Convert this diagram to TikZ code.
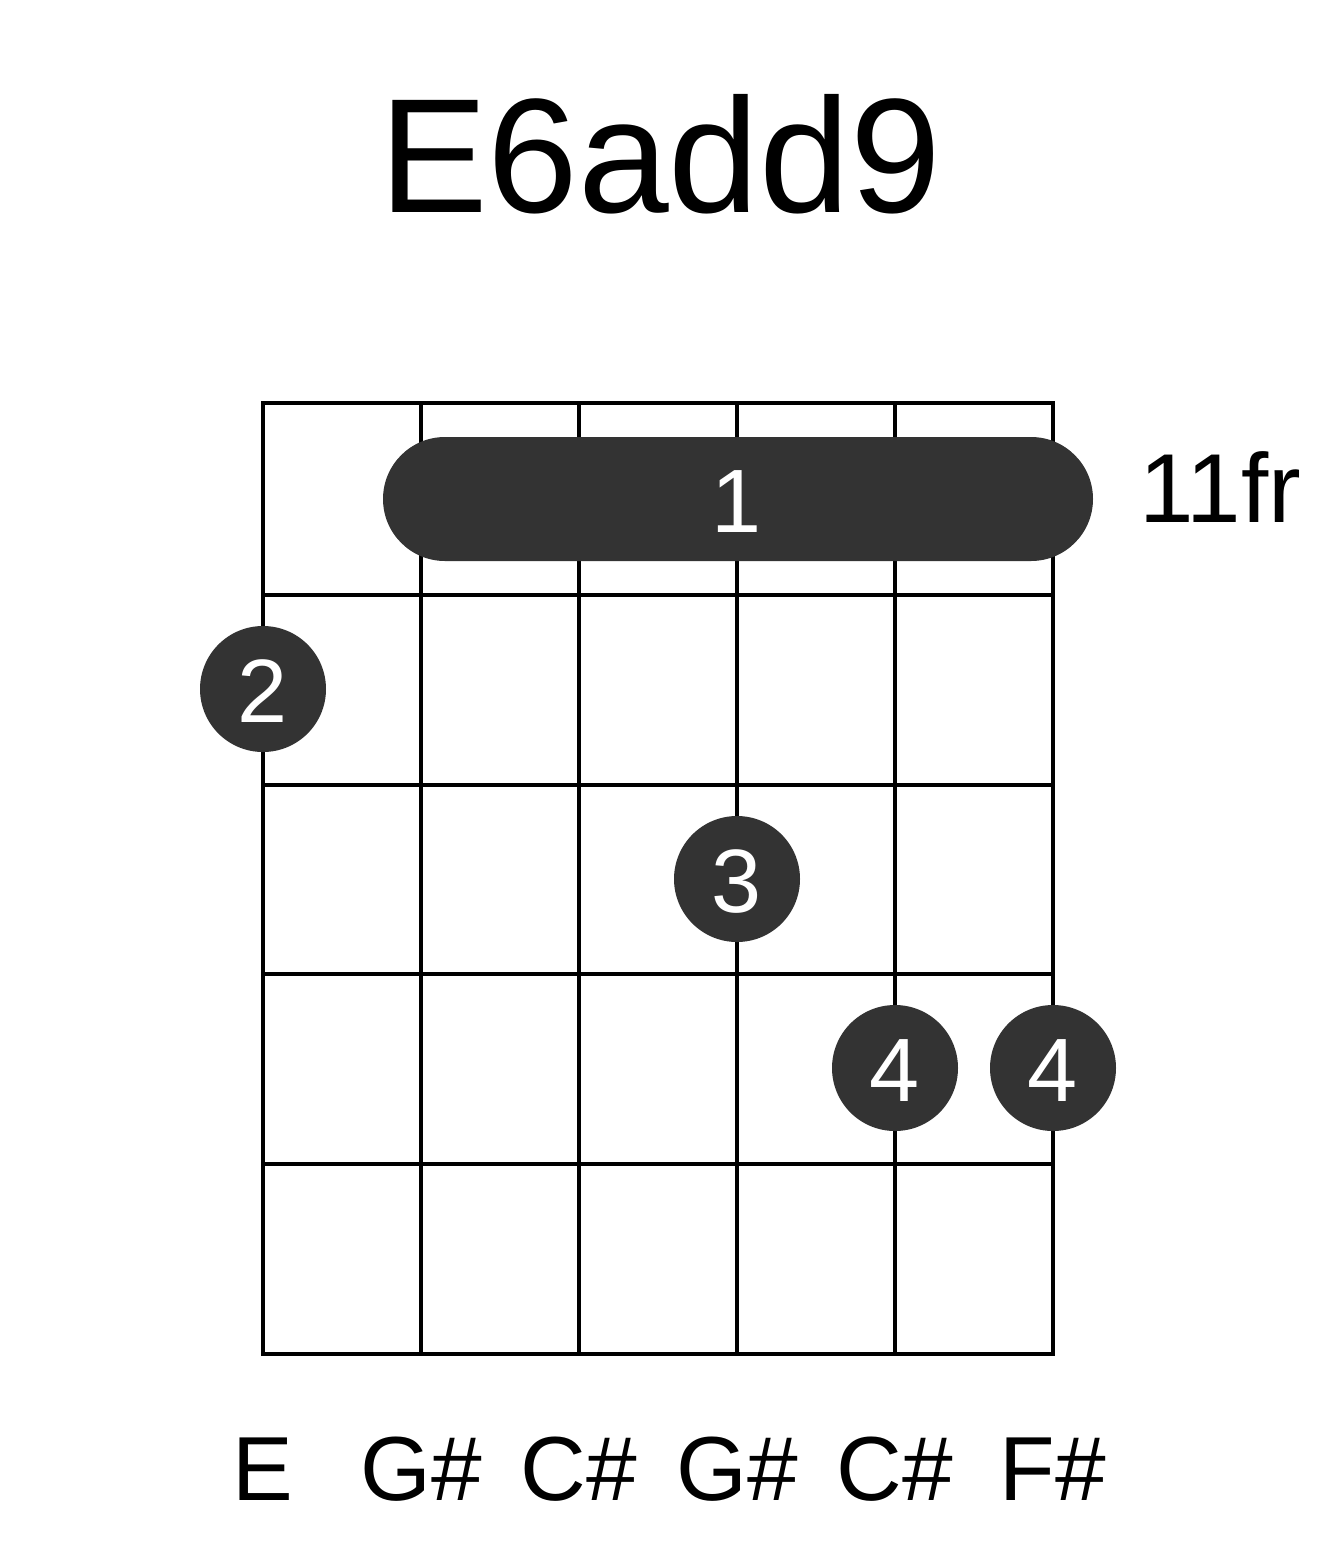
\documentclass[tikz,border=0pt]{standalone}
\usepackage{fontspec}
\setmainfont{Liberation Sans}
\definecolor{dot}{HTML}{333333}
\begin{document}
\begin{tikzpicture}[x=1pt,y=-1pt,
  gridline/.style={line width=4pt,black},
  fdot/.style={circle,fill=dot,minimum size=126pt,inner sep=0pt},
  num/.style={white,font=\fontsize{90}{90}\selectfont,anchor=base},
  lbl/.style={black,font=\fontsize{91}{91}\selectfont,anchor=base}]
\useasboundingbox (0,0) rectangle (1317,1551);
\foreach \x in {263,421,579,737,895,1053} \draw[gridline] (\x,403) -- (\x,1354);
\foreach \y in {403,595,785,974,1164,1354} \draw[gridline] (261,\y) -- (1055,\y);
\node[lbl,font=\fontsize{163}{163}\selectfont] (title) at (660,212) {E6add9};
\fill[dot,rounded corners=62pt] (383,437) rectangle (1093,561);
\coordinate (barre) at (737,499);
\node[num] (b1) at (737,532) {1};
\node[lbl,anchor=base west,font=\fontsize{98}{98}\selectfont] (fr) at (1136,522) {11fr};
\node[fdot] (d2) at (263,689) {}; \node[num] at (263,722) {2};
\node[fdot] (d3) at (737,879) {}; \node[num] at (737,912) {3};
\node[fdot] (d4a) at (895,1068) {}; \node[num] at (895,1101) {4};
\node[fdot] (d4b) at (1053,1068) {}; \node[num] at (1053,1101) {4};
\node[lbl] (n1) at (263,1500) {E};
\node[lbl] (n2) at (421,1500) {G\#};
\node[lbl] (n3) at (579,1500) {C\#};
\node[lbl] (n4) at (737,1500) {G\#};
\node[lbl] (n5) at (895,1500) {C\#};
\node[lbl] (n6) at (1053,1500) {F\#};
\end{tikzpicture}
\end{document}
